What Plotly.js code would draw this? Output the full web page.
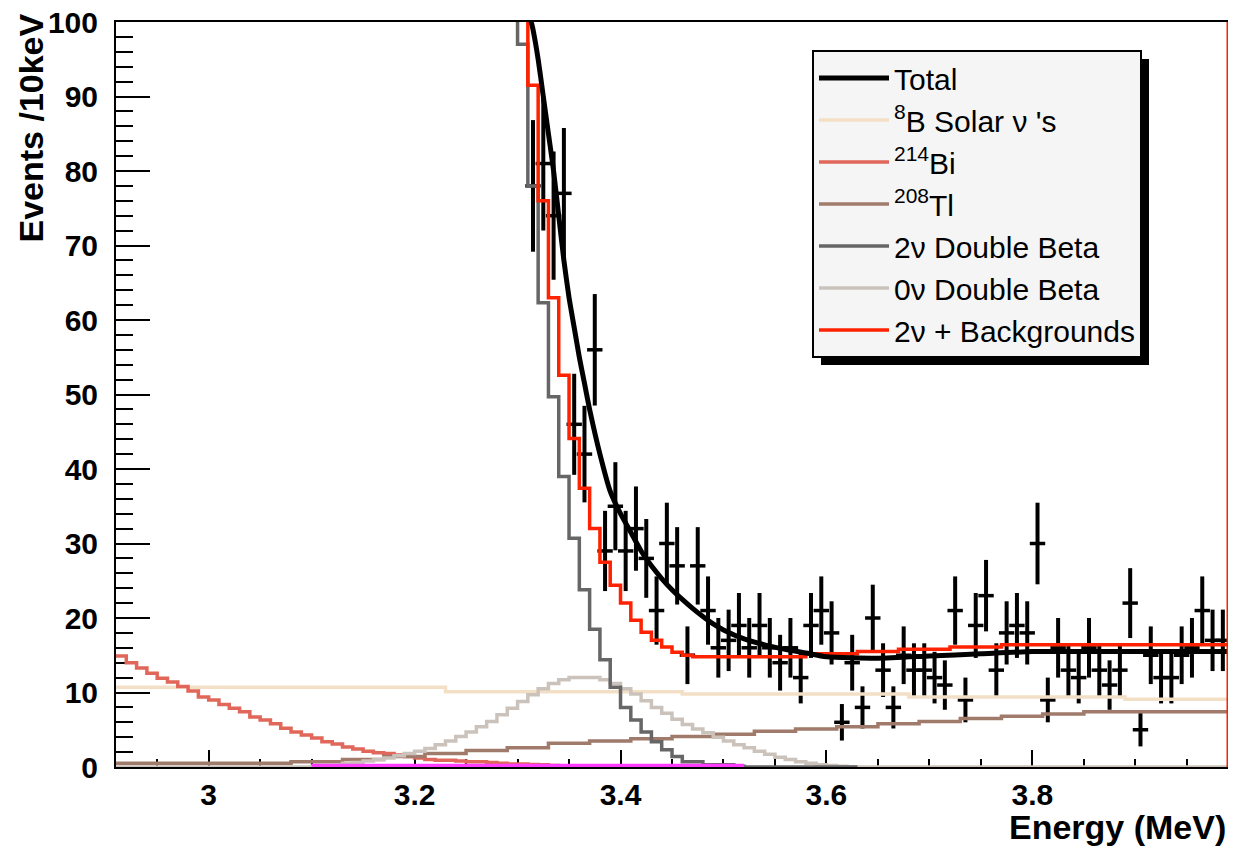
<!DOCTYPE html>
<html>
<head>
<meta charset="utf-8">
<script src="https://cdn.plot.ly/plotly-3.0.1.min.js"></script>
<style>
  html, body { margin: 0; padding: 0; background: #fff; }
  #chart { width: 1234px; height: 846px; }
</style>
</head>
<body>
<div id="chart"></div>
<script>
// ---------------- DATA ----------------
const xRange = [2.91, 3.99];
const yRange = [0, 100];
const binWidth = 0.01;            // 10 keV bins

// Data points: bin centres start at 3.315 MeV
const dataStart = 3.315;
const dataCounts = [78,81,74,77,46,42,56,29,35,29,
                    32,28,21,30,27,15,27,21,16,17,
                    19,16,19,16,14,16,12,19,21,18,
                    6,14,8,20,13,8,15,13,13,12,
                    11,21,9,19,23,13,18,19,18,30,
                    9,16,13,12,16,13,11,13,22,5,
                    15,12,12,15,16,21,17,17];

// Total fit curve
const totalX = [3.305,3.31,3.315,3.32,3.325,3.33,3.335,3.34,3.345,3.35,3.355,3.36,3.365,3.37,3.38,3.39,3.40,3.41,3.42,3.43,3.44,3.45,3.46,3.47,3.48,3.49,3.50,3.52,3.54,3.56,3.58,3.60,3.65,3.70,3.75,3.80,3.85,3.90,3.95,3.99];
const totalY = [108,102,99,95,90,85,80,74,68,63,59,55,51.5,48,42,37,34,31.5,29,27,25.3,23.8,22.5,21.3,20.2,19.2,18.4,17.2,16.4,15.8,15.3,14.8,14.6,14.9,15.2,15.5,15.5,15.5,15.5,15.5];

// 8B solar (coarse steps)
const solarEdges = [2.91, 3.23, 3.46, 3.68, 3.89, 3.99];
const solarVals  = [10.7, 10.1, 9.8, 9.4, 9.1];

// 214Bi (10 keV bins from 2.91)
const biStart = 2.91;
const biVals = [14.9,14.0,13.3,12.6,11.9,11.4,10.8,10.2,9.4,9.0,
                8.4,7.9,7.4,6.7,6.3,5.8,5.2,4.7,4.3,3.9,
                3.4,3.1,2.7,2.4,2.1,1.9,1.8,1.6,1.4,1.2,
                1.0,0.9,0.9,0.8,0.7,0.7,0.6,0.5,0.4,0.4,
                0.35,0.3,0.2,0.1,0.05,0.05,0,0,0];

// 208Tl (coarse steps)
const tlEdges = [2.91,3.08,3.13,3.17,3.21,3.25,3.29,3.33,3.37,3.41,3.45,3.49,3.53,3.57,3.61,3.65,3.69,3.73,3.77,3.81,3.85,3.99];
const tlVals  = [0.5,0.7,1.0,1.4,1.8,2.2,2.6,3.2,3.5,3.8,4.1,4.4,4.8,5.1,5.4,5.8,6.1,6.5,6.8,7.1,7.4];

// 2nu double beta (10 keV bins from 3.27)
const nu2Start = 3.27;
const nu2Vals = [140,125,108,97,78,62.3,49.7,39,30.7,23.8,
                 18.5,14.4,10.7,8,6.3,4.7,3.4,2.3,1.4,0.7,
                 0.7,0.3,0.3,0.3,0.1,0,0,0,0,0,0,0,0,0,0,0];

// 0nu double beta (10 keV bins from 3.10, zero outside)
const nu0Start = 3.10;
const nu0Vals = [0.1,0.2,0.3,0.5,0.6,0.8,1.0,1.2,1.5,1.8,
                 2.1,2.5,3.0,3.5,4.1,4.7,5.4,6.1,7.0,7.9,
                 8.8,9.7,10.5,11.2,11.7,12.0,12.0,12.0,11.7,11.2,
                 10.5,9.8,8.9,8.0,7.2,6.4,5.7,5.1,4.6,4.0,
                 3.5,3.0,2.6,2.1,1.7,1.3,1.0,0.7,0.5,0.3,
                 0.2,0.1,0.05];

// Unlabelled magenta component near zero
const magentaEdges = [3.10, 3.52];
const magentaVals  = [0.2];

// 2nu + backgrounds (10 keV bins from 3.28)
const redStart = 3.28;
const redVals = [130,118,106,91.5,76,63,52.6,44.1,37.4,32,
                 27.5,24.4,22,19.7,18.1,17,16.1,15.4,15,
                 14.8,14.8,14.8,14.8,14.8,14.8,14.8,14.8,14.8,14.8,14.8,
                 15.2,15.2,15.2,15.2,15.2,
                 15.5,15.5,15.5,15.5,
                 15.8,15.8,15.8,15.8,15.8,
                 16.1,16.1,16.1,16.1,16.1,
                 16.4,16.4,16.4,16.4,16.4,16.4,16.4,16.4,16.4,16.4,16.4,
                 16.4,16.4,16.4,16.4,16.4,16.4,16.4,16.4,16.4,16.4,16.4];

const legendNames = {
  total: 'Total',
  solar: '<sup>8</sup>B Solar ν \'s',
  bi: '<sup>214</sup>Bi',
  tl: '<sup>208</sup>Tl',
  nu2: '2ν Double Beta',
  nu0: '0ν Double Beta',
  red: '2ν + Backgrounds'
};

// ---------------- helpers ----------------
function uniformEdges(start, n) {
  const e = [];
  for (let i = 0; i <= n; i++) e.push(+(start + i * binWidth).toFixed(4));
  return e;
}
function stepTrace(edges, vals, color, width, name, rank) {
  const t = {
    x: edges,
    y: vals.concat([vals[vals.length - 1]]),
    mode: 'lines',
    type: 'scatter',
    line: { shape: 'hv', color: color, width: width },
    showlegend: !!name,
    hoverinfo: 'skip'
  };
  if (name) { t.name = name; t.legendgroup = 'g' + rank; t.legendrank = rank; }
  return t;
}

const dataX = dataCounts.map((_, i) => +(dataStart + i * binWidth).toFixed(4));
const dataErr = dataCounts.map(v => Math.sqrt(v));

const nu0Edges = [xRange[0]].concat(uniformEdges(nu0Start, nu0Vals.length), [xRange[1]]);
const nu0Full = [0].concat(nu0Vals, [0]);

const traces = [
  {
    x: dataX, y: dataCounts, type: 'scatter', mode: 'markers',
    marker: { symbol: 'line-ew', size: 11, color: 'black', line: { width: 3.5, color: 'black' } },
    error_y: { type: 'data', array: dataErr, visible: true, thickness: 4, width: 0, color: 'black' },
    showlegend: false, hoverinfo: 'skip'
  },
  stepTrace(solarEdges, solarVals, '#f3dfc6', 3.5, legendNames.solar, 2),
  stepTrace(uniformEdges(biStart, biVals.length), biVals, '#e0675a', 3.5, legendNames.bi, 3),
  stepTrace(tlEdges, tlVals, '#a07a6a', 3.5, legendNames.tl, 4),
  stepTrace(nu0Edges, nu0Full, '#cbc3bb', 3.5, legendNames.nu0, 6),
  stepTrace(uniformEdges(nu2Start, nu2Vals.length), nu2Vals, '#666666', 3.5, legendNames.nu2, 5),
  stepTrace(magentaEdges, magentaVals, '#ff3cff', 3.5, null, 0),
  stepTrace(uniformEdges(redStart, redVals.length), redVals, '#ff2200', 3.5, legendNames.red, 7),
  {
    x: totalX, y: totalY, type: 'scatter', mode: 'lines',
    line: { color: 'black', width: 5, shape: 'spline', smoothing: 0.6 },
    name: legendNames.total, legendgroup: 'g1', legendrank: 1, hoverinfo: 'skip'
  }
];

const L = 116, R = 6, T = 22, B = 79;
const W = 1234, H = 846;
const plotW = W - L - R, plotH = H - T - B;
const tickFont = { family: 'Liberation Sans, Arial, sans-serif', size: 30, color: 'black', weight: 700 };
const titleFont = { family: 'Liberation Sans, Arial, sans-serif', size: 34, color: 'black', weight: 700 };

const layout = {
  width: W, height: H,
  margin: { l: L, r: R, t: T, b: B, pad: 0 },
  paper_bgcolor: 'white', plot_bgcolor: 'white',
  showlegend: true,
  legend: {
    x: (812 - L) / plotW, y: 1 - (50 - T) / plotH,
    xanchor: 'left', yanchor: 'top',
    bgcolor: '#f5f5f5', bordercolor: 'black', borderwidth: 2,
    font: { family: 'Liberation Sans, Arial, sans-serif', size: 30, color: 'black' },
    itemwidth: 70, tracegroupgap: 3, traceorder: 'normal'
  },
  xaxis: {
    range: xRange, tick0: 3.0, dtick: 0.2,
    ticks: 'inside', ticklen: 17, tickwidth: 2, tickcolor: 'black',
    minor: { tick0: 3.0, dtick: 0.05, ticks: 'inside', ticklen: 8, tickwidth: 2, tickcolor: 'black' },
    showgrid: false, zeroline: false,
    showline: true, linecolor: 'black', linewidth: 2, mirror: true,
    tickfont: tickFont, ticklabelstandoff: 0, layer: 'below traces'
  },
  yaxis: {
    range: yRange, tick0: 0, dtick: 10,
    ticks: 'inside', ticklen: 34, tickwidth: 2, tickcolor: 'black',
    minor: { tick0: 0, dtick: 2, ticks: 'inside', ticklen: 17, tickwidth: 2, tickcolor: 'black' },
    showgrid: false, zeroline: false,
    showline: true, linecolor: 'black', linewidth: 2, mirror: false,
    tickfont: tickFont, ticklabelstandoff: 10, layer: 'below traces'
  },
  shapes: [
    { type: 'line', xref: 'x', yref: 'paper', x0: xRange[1], x1: xRange[1], y0: 0, y1: 1,
      line: { color: '#ff2000', width: 3 }, layer: 'above' }
  ],
  annotations: [
    { text: 'Energy (MeV)', xref: 'paper', yref: 'paper', x: 1, y: (767 - 827) / plotH,
      xanchor: 'right', yanchor: 'middle', showarrow: false, font: titleFont },
    { text: 'Events /10keV', xref: 'paper', yref: 'paper', x: (30 - L) / plotW, y: 1 + (T - 12) / plotH,
      xanchor: 'center', yanchor: 'top', textangle: -90, showarrow: false, font: titleFont }
  ]
};

Plotly.newPlot('chart', traces, layout, { displayModeBar: false, staticPlot: true }).then(gd => {
  const bg = gd.querySelector('.legend .bg');
  if (!bg) return;
  const r = bg.getBoundingClientRect();
  const c = gd.getBoundingClientRect();
  const off = 8;
  const toPX = px => (px - L) / plotW;
  const toPY = py => 1 - (py - T) / plotH;
  const left = r.left - c.left, top = r.top - c.top, right = r.right - c.left, bottom = r.bottom - c.top;
  const shadow = { type: 'rect', xref: 'paper', yref: 'paper',
    x0: toPX(left + off), x1: toPX(right + off), y0: toPY(bottom + off), y1: toPY(top + off),
    fillcolor: 'black', line: { width: 0 }, layer: 'above' };
  Plotly.relayout(gd, { shapes: layout.shapes.concat([shadow]) });
});
</script>
</body>
</html>
